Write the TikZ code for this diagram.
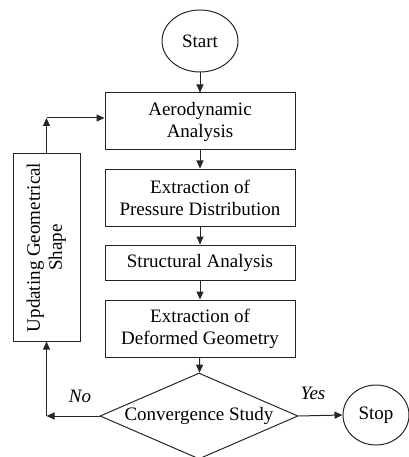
\documentclass[tikz,border=0pt]{standalone}
\usepackage{fontspec}
\setmainfont{Liberation Serif}
\usepackage{tikz}
\usetikzlibrary{shapes.geometric, positioning}
\usetikzlibrary{arrows.meta}

\begin{document}
\begin{tikzpicture}[x=1pt, y=-1pt,
		every node/.style={font=\fontsize{19}{22}\selectfont, draw=black!85, line width=1pt, align=center, inner sep=2pt},
		term/.style={ellipse},
		procbox/.style={rectangle, minimum width=190pt},
		decide/.style={diamond, aspect=2.3, inner sep=0pt, minimum width=198pt, minimum height=86pt},
		arr/.style={draw=black!85, line width=1pt, -{Triangle[length=8pt,width=7pt]}},
		lbl/.style={draw=none, font=\fontsize{19}{22}\selectfont\itshape}]
		\useasboundingbox (0,0) rectangle (408,457);
		\node[term, minimum width=76pt, minimum height=62pt] (start) at (200,41) {Start};
		\node[procbox, minimum height=57pt] (aero) at (200,121.5) {Aerodynamic\\Analysis};
		\node[procbox, minimum height=57pt] (press) at (200,197.5) {Extraction of\\Pressure Distribution};
		\node[procbox, minimum height=35pt] (struct) at (200,262.5) {Structural Analysis};
		\node[procbox, minimum height=57pt] (deform) at (200,328.5) {Extraction of\\Deformed Geometry};
		\node[decide] (conv) at (199,416) {Convergence Study};
		\node[term, minimum width=66pt, minimum height=60pt] (stop) at (376,415) {Stop};
		\node[rectangle, minimum width=67pt, minimum height=187pt] (update) at (46.5,247.5)
			{\rotatebox{90}{\begin{tabular}{@{}c@{}}Updating Geometrical\\Shape\end{tabular}}};
		\coordinate (nocorner) at (update.south |- conv.west);
		\coordinate (upcorner) at (update.north |- 0,118);
		\draw[arr] (start) -- (aero);
		\draw[arr] (aero) -- (press);
		\draw[arr] (press) -- (struct);
		\draw[arr] (struct) -- (deform);
		\draw[arr] (deform) -- (conv);
		\draw[arr] (conv.east) -- (stop.west);
		\draw[arr] (conv.west) -- (nocorner);
		\draw[arr] (nocorner) -- (update.south);
		\draw[arr] (update.north) -- (upcorner);
		\draw[arr] (upcorner) -- (upcorner -| aero.west);
		\node[lbl] (yes) at (313,393) {Yes};
		\node[lbl] (no) at (80,396) {No};
	\end{tikzpicture}
\end{document}
